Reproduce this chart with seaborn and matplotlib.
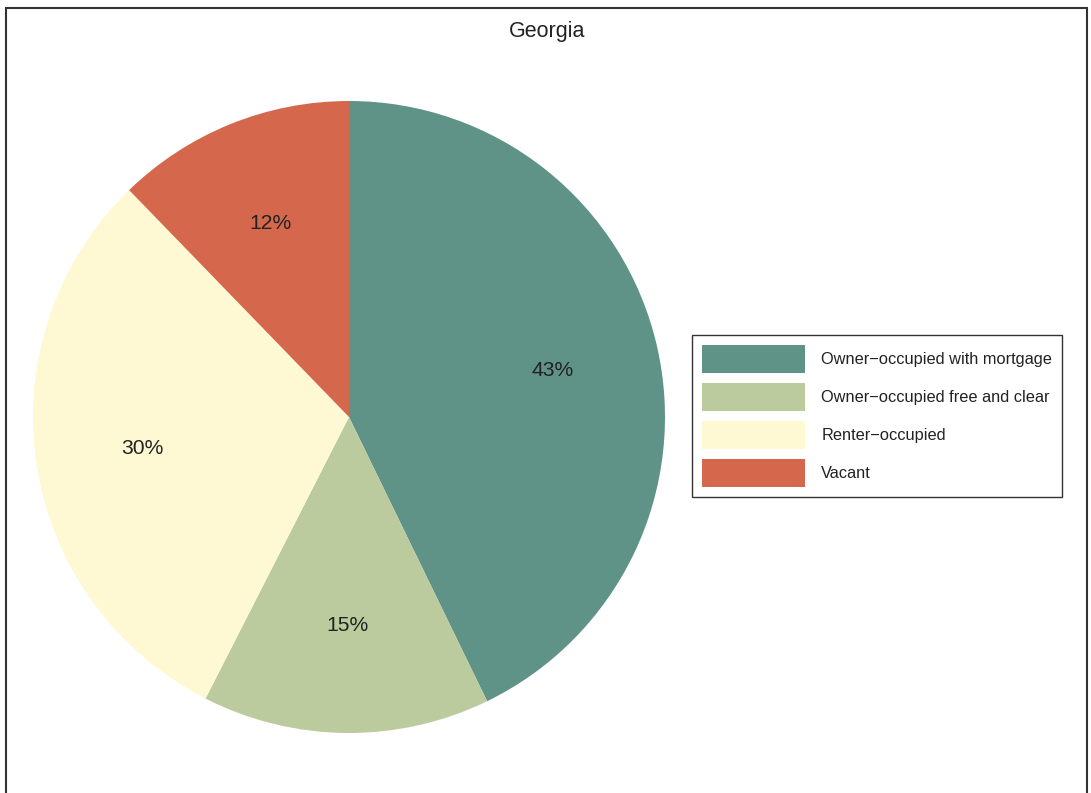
import matplotlib
matplotlib.use("Agg")
import matplotlib.pyplot as plt
import matplotlib.patches as mpatches
import seaborn as sns

sns.set_theme(style="white")
plt.rcParams['font.family'] = ['Liberation Sans', 'DejaVu Sans']

title = "Georgia"
categories = ["Owner\u2212occupied with mortgage", "Owner\u2212occupied free and clear",
              "Renter\u2212occupied", "Vacant"]
values = [42.8, 14.7, 30.25, 12.25]
colors = ["#5F9387", "#BCCB9E", "#FEF9D3", "#D5674D"]

W, H = 1091, 793
fig = plt.figure(figsize=(W / 100, H / 100), dpi=100)
fig.patch.set_facecolor("white")

ax = fig.add_axes([33 / W, 1 - 733 / H, 632 / W, 632 / H])
wedges, texts, autotexts = ax.pie(
    values, colors=colors, startangle=90, counterclock=False,
    autopct=lambda p: f"{p:.0f}%", pctdistance=0.66,
    wedgeprops=dict(linewidth=0),
    textprops=dict(fontsize=15.2, color="#222222"),
)
ax.set_xlim(-1, 1)
ax.set_ylim(-1, 1)
ax.set_aspect("equal")

fig.text(547 / W, 1 - 32 / H, title, ha="center", va="center", fontsize=15.5, color="#222222")

leg = fig.legend(wedges, categories, loc="upper left", bbox_to_anchor=(692 / W, 1 - 335 / H),
                 frameon=True, fancybox=False, fontsize=11.8, handlelength=6.3,
                 handleheight=2.25, labelspacing=0.6, borderpad=0.62, handletextpad=0.97,
                 borderaxespad=0)
leg.get_frame().set_edgecolor("black")
leg.get_frame().set_linewidth(1.0)
for t in leg.get_texts():
    t.set_color("#222222")

rect = mpatches.Rectangle((6 / W, -0.05), (1087 - 6) / W, 1.05 - 8 / H,
                          transform=fig.transFigure, fill=False, edgecolor="#333333",
                          linewidth=1.5, clip_on=False)
fig.patches.append(rect)

fig.savefig("out.png", dpi=100)
